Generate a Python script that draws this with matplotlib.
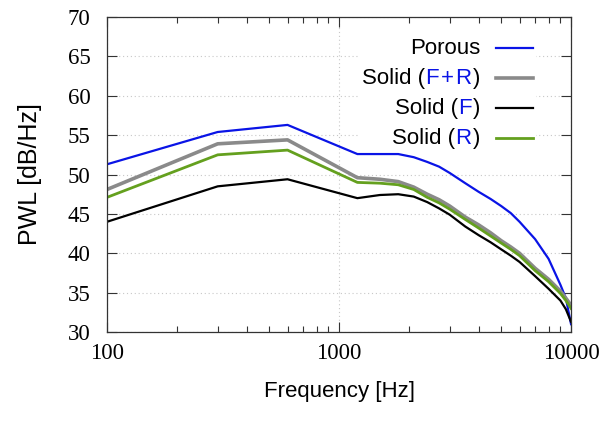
import matplotlib
matplotlib.use("Agg")
import matplotlib.pyplot as plt
from matplotlib.lines import Line2D
from matplotlib.offsetbox import TextArea, DrawingArea, HPacker, VPacker, AnchoredOffsetbox
from matplotlib.ticker import FixedLocator, LogLocator, NullFormatter

freq = [100, 300, 600, 1200, 1500, 1800, 2100, 2400, 2700, 3000, 3500,
        4000, 4500, 5000, 5500, 6000, 7000, 8000, 9000, 9500, 10000]
porous = [51.3, 55.4, 56.3, 52.6, 52.6, 52.6, 52.2, 51.6, 51.0, 50.2, 48.9,
          47.8, 46.9, 46.0, 45.1, 44.0, 41.8, 39.3, 36.0, 34.3, 31.0]
solid_fr = [48.1, 53.9, 54.4, 49.6, 49.4, 49.1, 48.4, 47.5, 46.8, 46.0, 44.6,
            43.6, 42.6, 41.6, 40.8, 40.0, 38.1, 36.7, 35.2, 34.3, 33.4]
solid_f = [44.0, 48.5, 49.4, 47.0, 47.4, 47.5, 47.2, 46.5, 45.7, 44.9, 43.4,
           42.3, 41.4, 40.5, 39.7, 38.9, 37.1, 35.5, 34.0, 32.9, 31.3]
solid_r = [47.1, 52.5, 53.1, 49.0, 48.9, 48.7, 48.1, 47.1, 46.4, 45.6, 44.3,
           43.2, 42.2, 41.3, 40.5, 39.7, 37.8, 36.4, 34.9, 34.0, 33.0]

BLUE = "#0a14e6"
GRAY = "#8a8a8a"
GREEN = "#64a01e"
SANS = "Liberation Sans"
SERIF = "Liberation Serif"

fig = plt.figure(figsize=(6.03, 4.23), dpi=100)
ax = fig.add_axes([0.1774, 0.215, 0.7696, 0.7448])

ax.plot(freq, porous, color=BLUE, lw=1.6)
ax.plot(freq, solid_fr, color=GRAY, lw=2.6)
ax.plot(freq, solid_f, color="black", lw=1.6)
ax.plot(freq, solid_r, color=GREEN, lw=2.0)

ax.set_xscale("log")
ax.set_xlim(100, 10000)
ax.set_ylim(30, 70)
ax.yaxis.set_major_locator(FixedLocator(range(30, 71, 5)))
ax.xaxis.set_major_locator(FixedLocator([100, 1000, 10000]))
ax.xaxis.set_minor_locator(LogLocator(base=10, subs=range(2, 10)))
ax.xaxis.set_minor_formatter(NullFormatter())
ax.set_xticklabels(["100", "1000", "10000"])

ax.tick_params(which="both", direction="in", top=True, right=True,
               colors="#333333", width=0.8)
ax.tick_params(which="major", length=7, labelsize=16.5, labelcolor="black")
ax.tick_params(which="minor", length=4)
ax.tick_params(axis="y", pad=12)
ax.tick_params(axis="x", pad=8)
for lab in ax.get_xticklabels() + ax.get_yticklabels():
    lab.set_family(SERIF)
for s in ax.spines.values():
    s.set_color("#333333")
    s.set_linewidth(0.9)

ax.grid(True, which="major", color="#c8c8c8", ls=(0, (1, 2.5)), lw=0.8)

ax.set_xlabel("Frequency [Hz]", family=SANS, fontsize=16, labelpad=12)
ax.set_ylabel("PWL [dB/Hz]", family=SANS, fontsize=18, labelpad=18)

# gnuplot style key: text right-aligned, sample line on the right
labels = [[("Porous", "black")],
          [("Solid (", "black"), ("F", BLUE), ("+", BLUE), ("R", BLUE), (")", "black")],
          [("Solid (", "black"), ("F", BLUE), (")", "black")],
          [("Solid (", "black"), ("R", BLUE), (")", "black")]]
styles = [(BLUE, 1.6), (GRAY, 2.6), ("black", 1.6), (GREEN, 2.0)]
rows = []
for parts, (c, lw) in zip(labels, styles):
    kids = []
    for i, (t, col) in enumerate(parts):
        ta = TextArea(t, textprops=dict(color=col, fontsize=16, family=SANS))
        if t in ("+", ")", "R") and i > 1:
            kids.append(DrawingArea(1.2, 1, 0, 0))
        kids.append(ta)
    da = DrawingArea(38, 12, 0, 0)
    da.add_artist(Line2D([11, 38], [6, 6], color=c, lw=lw))
    kids.append(da)
    rows.append(HPacker(children=kids, align="center", pad=0, sep=0))
key = VPacker(children=rows, align="right", pad=0, sep=6.5)
box = AnchoredOffsetbox(loc="upper right", child=key, pad=0.2, borderpad=0,
                        frameon=True, bbox_to_anchor=(0.925, 0.943),
                        bbox_transform=ax.transAxes)
box.patch.set_facecolor("white")
box.patch.set_edgecolor("none")
box.set_zorder(5)
ax.add_artist(box)

fig.savefig("out.png", dpi=100)
